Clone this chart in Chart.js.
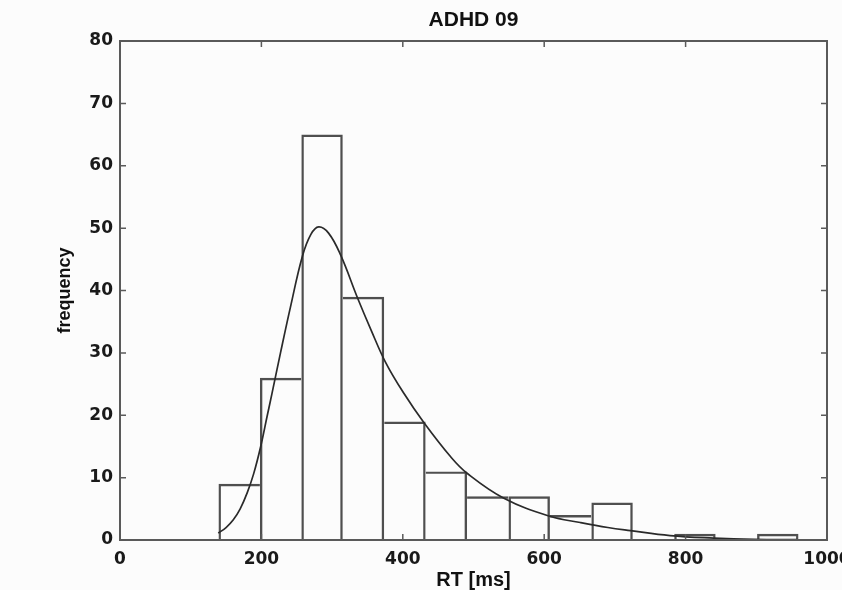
<!DOCTYPE html>
<html>
<head>
<meta charset="utf-8">
<script src="https://cdn.jsdelivr.net/npm/chart.js@4"></script>
<style>
  html, body { margin: 0; padding: 0; background: #fcfcfc; }
  #wrap { width: 842px; height: 590px; }
</style>
</head>
<body>
<div id="wrap"><canvas id="chart"></canvas></div>
<script>
// histogram bins (centres in ms) and counts
const binCenters = [168.6, 227.2, 285.8, 344.4, 403, 461.6, 520.2, 578.8, 637.4, 696, 754.6, 813.2, 871.8, 930.4];
const binCounts = [9, 26, 65, 39, 19, 11, 7, 7, 4, 6, 0, 1, 0, 1];

// fitted density curve, sampled by eye
const curveX = [139, 150, 160, 170, 180, 189, 199, 208, 215, 227, 241, 258, 270, 281, 295, 312, 336, 355, 376, 401, 430, 468, 491, 543, 608, 651, 690, 722, 778, 840, 897, 958];
const curveY = [1.1, 2, 3.2, 5, 7.6, 10.6, 15, 19.8, 23.5, 30, 37.3, 45.5, 49, 50.2, 49.2, 45.7, 38.8, 33.7, 28.4, 23.6, 18.8, 13.3, 10.7, 6.7, 3.8, 2.8, 2, 1.5, 0.7, 0.3, 0.1, 0.05];

const xTicks = [0, 200, 400, 600, 800, 1000];
const yTicks = [0, 10, 20, 30, 40, 50, 60, 70, 80];

const titleText = 'ADHD 09';
const barLine = 2.4;

// MATLAB style frame: box, inward ticks on all four sides, title over the axes
const frameTicks = {
  id: 'frameTicks',
  beforeDraw(chart) {
    const ctx = chart.ctx;
    ctx.save();
    ctx.fillStyle = '#fcfcfc';
    ctx.fillRect(0, 0, chart.width, chart.height);
    ctx.restore();
  },
  afterDraw(chart) {
    const { ctx, chartArea: a, scales: { x, y } } = chart;
    ctx.save();
    ctx.strokeStyle = '#5a5a5a';
    ctx.lineWidth = 2;
    ctx.strokeRect(a.left, a.top, a.right - a.left, a.bottom - a.top);
    ctx.lineWidth = 1.5;
    ctx.beginPath();
    xTicks.forEach(v => {
      const px = x.getPixelForValue(v);
      ctx.moveTo(px, a.bottom); ctx.lineTo(px, a.bottom - 6);
      ctx.moveTo(px, a.top); ctx.lineTo(px, a.top + 6);
    });
    yTicks.forEach(v => {
      const py = y.getPixelForValue(v);
      ctx.moveTo(a.left, py); ctx.lineTo(a.left + 6, py);
      ctx.moveTo(a.right, py); ctx.lineTo(a.right - 6, py);
    });
    ctx.stroke();

    ctx.fillStyle = '#111';
    ctx.font = 'bold 21px "Liberation Sans", Arial, sans-serif';
    ctx.textAlign = 'center';
    ctx.textBaseline = 'middle';
    ctx.fillText(titleText, (a.left + a.right) / 2, 20);
    ctx.restore();
  }
};

// shared bin edges are drawn once, by the taller neighbour
function edgeWidths(ctx) {
  const i = ctx.dataIndex;
  const n = binCounts.length;
  const c = binCounts[i];
  return {
    top: barLine,
    bottom: 0,
    left: (i === 0 || binCounts[i - 1] <= c) ? barLine : 0,
    right: (i === n - 1 || binCounts[i + 1] < c) ? barLine : 0
  };
}

const tickFont = { family: '"DejaVu Sans", sans-serif', size: 17, weight: 'bold' };

new Chart(document.getElementById('chart'), {
  type: 'bar',
  data: {
    datasets: [
      {
        type: 'line',
        data: curveX.map((v, i) => ({ x: v, y: curveY[i] })),
        borderColor: '#2a2a2a',
        borderWidth: 1.7,
        pointRadius: 0,
        fill: false,
        tension: 0.4,
        order: 0
      },
      {
        type: 'bar',
        data: binCenters.map((v, i) => ({ x: v, y: binCounts[i] })),
        backgroundColor: 'rgba(255,255,255,0)',
        borderColor: '#4f4f4f',
        borderWidth: edgeWidths,
        borderSkipped: false,
        inflateAmount: 0,
        barPercentage: 1,
        categoryPercentage: 1,
        order: 1
      }
    ]
  },
  options: {
    responsive: true,
    maintainAspectRatio: false,
    animation: false,
    layout: { padding: { top: 41, right: 15, left: 0, bottom: 0 } },
    plugins: {
      legend: { display: false },
      tooltip: { enabled: false },
      title: { display: false }
    },
    scales: {
      x: {
        type: 'linear',
        offset: false,
        min: 0,
        max: 1000,
        grid: { display: false, drawTicks: false },
        border: { display: false },
        afterBuildTicks: s => { s.ticks = xTicks.map(v => ({ value: v })); },
        ticks: { color: '#1a1a1a', font: tickFont, padding: 9, maxRotation: 0, callback: v => String(v) },
        title: {
          display: true,
          text: 'RT [ms]',
          color: '#111',
          font: { family: '"Liberation Sans", Arial, sans-serif', size: 20, weight: 'bold' },
          padding: { top: 0, bottom: -2 }
        },
        afterFit: s => { s.height = 50; s.paddingLeft = 0; s.paddingRight = 0; }
      },
      y: {
        min: 0,
        max: 80,
        grid: { display: false, drawTicks: false },
        border: { display: false },
        afterBuildTicks: s => { s.ticks = yTicks.map(v => ({ value: v })); },
        ticks: { color: '#1a1a1a', font: tickFont, padding: 7 },
        title: {
          display: true,
          text: 'frequency',
          color: '#111',
          font: { family: '"Liberation Sans", Arial, sans-serif', size: 18, weight: 'bold' },
          padding: { top: 54, bottom: 0 }
        },
        afterFit: s => { s.width = 120; s.paddingTop = 0; s.paddingBottom = 0; }
      }
    }
  },
  plugins: [frameTicks]
});
</script>
</body>
</html>
